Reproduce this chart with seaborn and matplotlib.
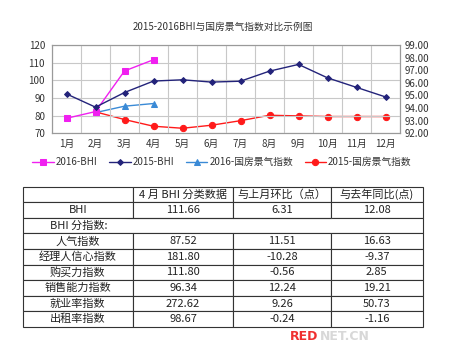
import matplotlib
matplotlib.use("Agg")
import matplotlib.pyplot as plt
import seaborn as sns
import pandas as pd

# ---------------- data ----------------
months = ["1月", "2月", "3月", "4月", "5月", "6月", "7月", "8月", "9月", "10月", "11月", "12月"]
bhi_2016_months = ["1月", "2月", "3月", "4月"]
bhi_2016 = [78.5, 82.3, 105.3, 111.66]
bhi_2015 = [92.3, 84.8, 93.1, 99.58, 100.3, 99.0, 99.5, 105.2, 109.0, 101.4, 96.0, 90.6]
gf_2016_months = ["2月", "3月", "4月"]
gf_2016 = [93.64, 94.15, 94.36]
gf_2015_months = ["2月", "3月", "4月", "5月", "6月", "7月", "8月", "9月", "10月", "11月", "12月"]
gf_2015 = [93.70, 93.09, 92.56, 92.40, 92.64, 93.00, 93.43, 93.38, 93.33, 93.33, 93.33]

left_ticks = [70, 80, 90, 100, 110, 120]
right_ticks = [92, 93, 94, 95, 96, 97, 98, 99]

title = "2015-2016BHI与国房景气指数对比示例图"
series_names = ["2016-BHI", "2015-BHI", "2016-国房景气指数", "2015-国房景气指数"]

table_header = ["", "4 月 BHI 分类数据", "与上月环比（点）", "与去年同比(点)"]
row_names = ["BHI", "BHI 分指数:", "人气指数", "经理人信心指数", "购买力指数",
             "销售能力指数", "就业率指数", "出租率指数"]
col_april = ["111.66", "", "87.52", "181.80", "111.80", "96.34", "272.62", "98.67"]
col_mom = ["6.31", "", "11.51", "-10.28", "-0.56", "12.24", "9.26", "-0.24"]
col_yoy = ["12.08", "", "16.63", "-9.37", "2.85", "19.21", "50.73", "-1.16"]

# ---------------- style ----------------
sns.set_style("white")
plt.rcParams["font.family"] = ["Noto Sans CJK SC", "DejaVu Sans"]
plt.rcParams["axes.unicode_minus"] = False

W, H = 455, 347
fig = plt.figure(figsize=(W / 100, H / 100), dpi=100)
fig.patch.set_facecolor("white")

pos = {m: i + 1 for i, m in enumerate(months)}

def frame(ms, vals):
    return pd.DataFrame({"x": [pos[m] for m in ms], "y": vals})

ax = fig.add_axes([52 / W, 1 - 133.3 / H, (400 - 52) / W, (133.3 - 45) / H])
ax2 = ax.twinx()

c_mag = "#f020f0"
c_navy = "#23237a"
c_blue = "#3a8ad6"
c_red = "#ff1a1a"

sns.lineplot(data=frame(bhi_2016_months, bhi_2016), x="x", y="y", ax=ax, color=c_mag,
             marker="s", markersize=5, markeredgecolor=c_mag, linewidth=1.0, label=series_names[0],
             legend=False)
sns.lineplot(data=frame(months, bhi_2015), x="x", y="y", ax=ax, color=c_navy,
             marker="D", markersize=3, markeredgecolor=c_navy, linewidth=1.0, label=series_names[1],
             legend=False)
sns.lineplot(data=frame(gf_2016_months, gf_2016), x="x", y="y", ax=ax2, color=c_blue,
             marker="^", markersize=4, markeredgecolor=c_blue, linewidth=1.0, label=series_names[2],
             legend=False)
sns.lineplot(data=frame(gf_2015_months, gf_2015), x="x", y="y", ax=ax2, color=c_red,
             marker="o", markersize=4.5, markeredgecolor=c_red, linewidth=1.0, label=series_names[3],
             legend=False)

ax.set_xlim(0.5, len(months) + 0.5)
ax.set_ylim(left_ticks[0], left_ticks[-1])
ax2.set_ylim(right_ticks[0], right_ticks[-1])
ax.set_xticks(list(pos.values()))
ax.set_xticklabels(months)
ax.set_xticks([p + 0.5 for p in range(len(months) + 1)], minor=True)
ax.set_yticks(left_ticks)
ax2.set_yticks(right_ticks)
ax2.set_yticklabels([f"{v:.2f}" for v in right_ticks])
ax.set_xlabel("")
ax.set_ylabel("")
ax2.set_ylabel("")

ax.grid(True, which="minor", axis="x", color="#c8c8c8", linewidth=0.8)
ax.grid(True, which="major", axis="y", color="#c8c8c8", linewidth=0.8)
ax.grid(False, which="major", axis="x")
ax.tick_params(axis="x", which="both", length=0, labelsize=7, pad=4, colors="#333333")
ax.tick_params(axis="y", length=0, labelsize=7, pad=5, colors="#333333")
ax2.tick_params(axis="y", length=0, labelsize=7, pad=3, colors="#333333")
for a in (ax, ax2):
    for s in a.spines.values():
        s.set_color("#9a9a9a")
        s.set_linewidth(0.8)
ax.set_zorder(ax2.get_zorder() + 1)
ax.patch.set_visible(False)

h1, l1 = ax.get_legend_handles_labels()
h2, l2 = ax2.get_legend_handles_labels()
fig.legend(h1 + h2, l1 + l2, loc="center", bbox_to_anchor=(222 / W, 1 - 162 / H), ncol=4,
           frameon=False, fontsize=7, handlelength=2.2, handletextpad=0.2, columnspacing=1.2,
           labelcolor="#333333")

fig.text(223 / W, 1 - 27 / H, title, ha="center", va="center", fontsize=7, color="#333333")

# ---------------- table ----------------
tax = fig.add_axes([22.7 / W, 1 - 327 / H, 400 / W, (327 - 186.7) / H])
tax.axis("off")
cell_text = [table_header] + [[r, a, m, y] for r, a, m, y in zip(row_names, col_april, col_mom, col_yoy)]
col_w = [110, 100.6, 97.7, 91.7]
tot = sum(col_w)
tbl = tax.table(cellText=cell_text, colWidths=[w / tot for w in col_w], cellLoc="center",
                bbox=[0, 0, 1, 1])
tbl.auto_set_font_size(False)
tbl.set_fontsize(8)
for (r, c), cell in tbl.get_celld().items():
    cell.set_edgecolor("#333333")
    cell.set_linewidth(0.8)
    cell.get_text().set_color("#222222")
    if r == 2:
        if c == 0:
            cell.visible_edges = "LTB"
            cell.get_text().set_ha("left")
            cell._loc = "left"
            cell.PAD = 0.25
        elif c == 3:
            cell.visible_edges = "RTB"
        else:
            cell.visible_edges = "TB"

# watermark
fig.text(290 / W, 1 - 336 / H, "RED", fontsize=9, fontweight="bold", color="#f03030",
         ha="left", va="center", family="DejaVu Sans")
fig.text(320 / W, 1 - 336 / H, "NET.CN", fontsize=9, fontweight="bold", color="#d8d8d8",
         ha="left", va="center", family="DejaVu Sans")

fig.savefig("out.png", dpi=100, facecolor="white")
